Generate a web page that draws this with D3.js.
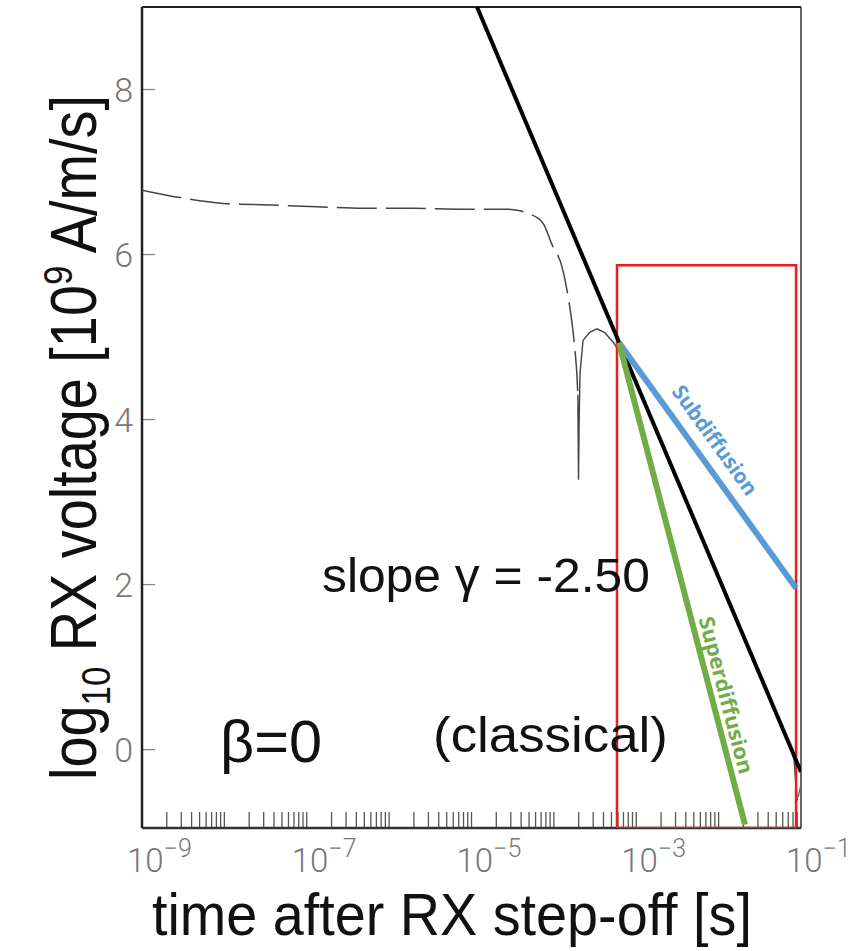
<!DOCTYPE html>
<html><head><meta charset="utf-8">
<script src="https://cdn.jsdelivr.net/npm/d3@7"></script>
<style>html,body{margin:0;padding:0;background:#fff;} svg{display:block;}</style>
</head><body>
<svg id="chart" width="853" height="951"></svg>
<script>
// ---------------- data (log10 time [s], log10 voltage) ----------------
const xDecadeExps = [-9, -7, -5, -3, -1];
const yTickValues = [0, 2, 4, 6, 8];

// negative-valued part of the computed response (dashed)
const negBranchLogT = [-9.000, -8.539, -8.017, -7.446, -6.876, -6.317, -5.710, -5.103, -4.569, -4.411, -4.314, -4.132, -4.023, -3.901, -3.841, -3.780, -3.744, -3.719, -3.709];
const negBranchLogV = [6.78, 6.69, 6.62, 6.60, 6.58, 6.56, 6.56, 6.55, 6.55, 6.53, 6.50, 6.38, 6.12, 5.85, 5.57, 5.17, 4.84, 4.52, 4.30];
// positive-valued part (solid)
const posBranchLogT = [-3.709, -3.701, -3.693, -3.683, -3.646, -3.561, -3.476, -3.379, -3.282, -3.197, -3.000, -2.500, -2.000, -1.500, -1.120, -1.085, -1.061, -1.045];
const posBranchLogV = [4.30, 3.27, 3.99, 4.56, 4.96, 5.06, 5.10, 5.05, 4.94, 4.82, 4.42, 3.25, 2.07, 0.89, 0.01, -0.12, -0.43, -0.62];
const tailLogT = [-1.036, -1.000];
const tailLogV = [-0.58, -0.42];

// classical late-time asymptote (slope -2.5)
const classicalLogT = [-4.933, -1.000];
const classicalLogV = [9.00, -0.27];
// anomalous diffusion sketches
const subLogT = [-3.209, -1.061];
const subLogV = [4.93, 1.96];
const superLogT = [-3.209, -1.680];
const superLogV = [4.93, -0.91];
// highlighted window
const boxLogT = [-3.234, -1.060];
const boxLogV = [5.87, -0.95];

// ---------------- layout ----------------
const svg = d3.select('#chart');
const plot = {left: 142, right: 801, top: 7, bottom: 828};
const x = d3.scaleLog().domain([1e-9, 1e-1]).range([plot.left, plot.right]);
const y = d3.scaleLinear().domain([-0.95, 9]).range([plot.bottom, plot.top]);
const px = lt => x(Math.pow(10, lt));

svg.append('defs').append('clipPath').attr('id', 'clip')
  .append('rect').attr('x', plot.left).attr('y', plot.top)
  .attr('width', plot.right - plot.left).attr('height', plot.bottom - plot.top);

const line = d3.line().x(d => px(d[0])).y(d => y(d[1]));
const smooth = d3.line().x(d => px(d[0])).y(d => y(d[1])).curve(d3.curveMonotoneX);
const zip = (a, b) => a.map((v, i) => [v, b[i]]);

// minor/major ticks along bottom (inside)
const xTickVals = [];
for (let e = -9; e <= -2; e++) for (let m = 1; m <= 9; m++) {
  if (e === -9 && m === 1) continue;
  xTickVals.push(m * Math.pow(10, e));
}
svg.append('g').selectAll('line').data(xTickVals).join('line')
  .attr('x1', d => x(d)).attr('x2', d => x(d))
  .attr('y1', plot.bottom).attr('y2', plot.bottom - 16)
  .attr('stroke', '#555').attr('stroke-width', 1.3);

// y ticks
svg.append('g').selectAll('line').data(yTickValues).join('line')
  .attr('x1', plot.left).attr('x2', plot.left + 13)
  .attr('y1', d => y(d)).attr('y2', d => y(d))
  .attr('stroke', '#888').attr('stroke-width', 1.3);

// tick labels
const tickFont = 'Roboto, Liberation Sans, Arial, sans-serif';
svg.append('g').selectAll('text').data(yTickValues).join('text')
  .attr('x', plot.left - 9).attr('y', d => y(d)).attr('dy', '0.36em')
  .attr('text-anchor', 'end')
  .attr('font-family', tickFont).attr('font-weight', 300)
  .attr('font-size', 34).attr('fill', '#777')
  .text(d => d);

const xl = svg.append('g').selectAll('text').data(xDecadeExps).join('text')
  .attr('x', d => x(Math.pow(10, d)) - 15).attr('y', 872)
  .attr('font-family', tickFont).attr('font-weight', 300)
  .attr('font-size', 33).attr('fill', '#777');
xl.append('tspan').text('10');
xl.append('tspan').attr('font-size', 25).attr('dy', -15).text(d => '\u2212' + Math.abs(d));

// frame
svg.append('line').attr('x1', plot.right).attr('x2', plot.right).attr('y1', plot.top).attr('y2', plot.bottom)
  .attr('stroke', '#666').attr('stroke-width', 2);
svg.append('line').attr('x1', plot.left).attr('x2', plot.right).attr('y1', plot.top).attr('y2', plot.top)
  .attr('stroke', '#222').attr('stroke-width', 2);
svg.append('line').attr('x1', plot.left).attr('x2', plot.right).attr('y1', plot.bottom).attr('y2', plot.bottom)
  .attr('stroke', '#333').attr('stroke-width', 2.5);
svg.append('line').attr('x1', plot.left).attr('x2', plot.left).attr('y1', plot.top).attr('y2', plot.bottom)
  .attr('stroke', '#222').attr('stroke-width', 2.5);

const g = svg.append('g').attr('clip-path', 'url(#clip)');

// computed response
g.append('path').attr('d', smooth(zip(negBranchLogT, negBranchLogV)))
  .attr('fill', 'none').attr('stroke', '#444').attr('stroke-width', 1.5)
  .attr('stroke-dasharray', '40,9');
g.append('path').attr('d', line(zip(posBranchLogT, posBranchLogV)))
  .attr('fill', 'none').attr('stroke', '#444').attr('stroke-width', 1.4);
g.append('path').attr('d', line(zip(tailLogT, tailLogV)))
  .attr('fill', 'none').attr('stroke', '#666').attr('stroke-width', 1.3);

// highlight box
g.append('rect')
  .attr('x', px(boxLogT[0])).attr('y', y(boxLogV[0]))
  .attr('width', px(boxLogT[1]) - px(boxLogT[0]))
  .attr('height', y(boxLogV[1]) - y(boxLogV[0]))
  .attr('fill', 'none').attr('stroke', '#ee1c1c').attr('stroke-width', 2.5);

// classical line
g.append('path').attr('d', line(zip(classicalLogT, classicalLogV)))
  .attr('fill', 'none').attr('stroke', '#000').attr('stroke-width', 4);
// sub / super
g.append('path').attr('d', line(zip(subLogT, subLogV)))
  .attr('fill', 'none').attr('stroke', '#5b9bd5').attr('stroke-width', 6);
g.append('path').attr('d', line(zip(superLogT, superLogV)))
  .attr('fill', 'none').attr('stroke', '#70ad47').attr('stroke-width', 6);

// rotated line labels
function lineLabel(txt, lt, lv, at, av, color, targetLen) {
  const ang = Math.atan2(y(lv[1]) - y(lv[0]), px(lt[1]) - px(lt[0])) * 180 / Math.PI;
  const gg = svg.append('g').attr('transform', `translate(${px(at)},${y(av)}) rotate(${ang})`);
  const t = gg.append('text').attr('x', 0).attr('y', 0).attr('dy', '0.35em')
    .attr('font-family', 'Open Sans, Noto Sans, sans-serif').attr('font-weight', 'bold')
    .attr('font-size', 21).attr('fill', color).text(txt);
  const w = t.node().getBBox().width;
  t.attr('transform', `translate(${-targetLen / 2},0) scale(${targetLen / w},1)`);
}
lineLabel('Subdiffusion', subLogT, subLogV, -2.044, 3.75, '#5b9bd5', 130);
lineLabel('Superdiffusion', superLogT, superLogV, -1.910, 0.66, '#70ad47', 162);

// fitted big text
function fitted(parent, tx, ty, rot, size, targetLen, build) {
  const gg = parent.append('g').attr('transform', `translate(${tx},${ty}) rotate(${rot})`);
  const t = gg.append('text').attr('x', 0).attr('y', 0)
    .attr('font-family', 'Liberation Sans, Arial, sans-serif')
    .attr('font-size', size).attr('fill', '#111');
  build(t);
  const w = t.node().getBBox().width;
  t.attr('transform', `scale(${targetLen / w},1)`);
  return t;
}

fitted(svg, px(-6.815), y(1.91), 0, 48, 328, t => t.text('slope \u03b3 = -2.50'));
fitted(svg, px(-8.053), y(-0.15), 0, 60, 102, t => t.text('\u03b2=0'));
fitted(svg, px(-5.467), y(-0.03), 0, 50, 235, t => t.text('(classical)'));

// axis titles
fitted(svg, 152, 935, 0, 60, 600, t => t.text('time after RX step-off [s]'));
fitted(svg, 96, 780, -90, 64, 685, t => {
  t.append('tspan').text('log');
  t.append('tspan').attr('font-size', 40).attr('dy', 14).text('10');
  t.append('tspan').attr('dy', -14).text(' RX voltage [10');
  t.append('tspan').attr('font-size', 40).attr('dy', -24).text('9');
  t.append('tspan').attr('dy', 24).text(' A/m/s]');
});
</script>
</body></html>
